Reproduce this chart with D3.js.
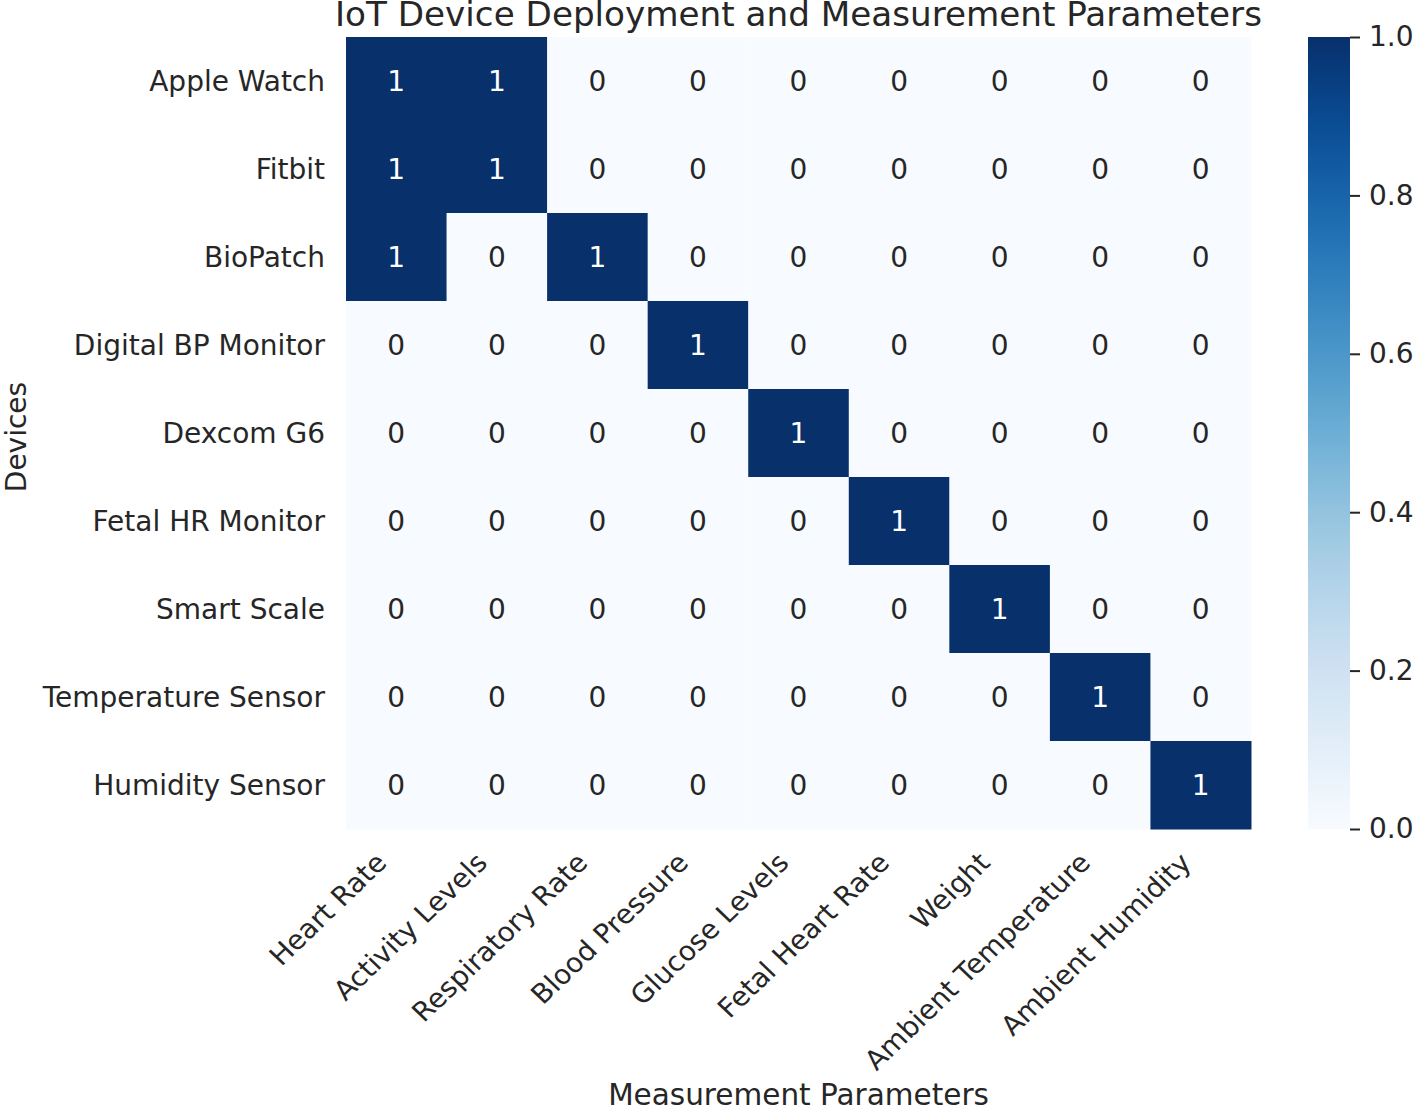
<!DOCTYPE html>
<html><head><meta charset="utf-8">
<script src="https://cdn.jsdelivr.net/npm/d3@7"></script>
<style>body{margin:0;background:#fff;} text{font-family:"DejaVu Sans",sans-serif;fill:#262626;}</style>
</head><body><svg id="c" width="1416" height="1111"></svg>
<script>
const devices = ["Apple Watch","Fitbit","BioPatch","Digital BP Monitor","Dexcom G6","Fetal HR Monitor","Smart Scale","Temperature Sensor","Humidity Sensor"];
const parameters = ["Heart Rate","Activity Levels","Respiratory Rate","Blood Pressure","Glucose Levels","Fetal Heart Rate","Weight","Ambient Temperature","Ambient Humidity"];
const matrix = [
 [1,1,0,0,0,0,0,0,0],
 [1,1,0,0,0,0,0,0,0],
 [1,0,1,0,0,0,0,0,0],
 [0,0,0,1,0,0,0,0,0],
 [0,0,0,0,1,0,0,0,0],
 [0,0,0,0,0,1,0,0,0],
 [0,0,0,0,0,0,1,0,0],
 [0,0,0,0,0,0,0,1,0],
 [0,0,0,0,0,0,0,0,1]
];
const cbTicks = [0,0.2,0.4,0.6,0.8,1.0];

const svg = d3.select("#c");
const L=346,R=1251,T=37,B=829;
const FS=28;
const x = d3.scaleBand().domain(parameters).range([L,R]);
const y = d3.scaleBand().domain(devices).range([T,B]);
const color = d3.scaleSequential(d3.interpolateBlues).domain([0,1]);

const cells=[];
matrix.forEach((row,i)=>row.forEach((v,j)=>cells.push({d:devices[i],p:parameters[j],v})));
svg.append("g").selectAll("rect").data(cells).join("rect")
 .attr("x",c=>x(c.p)).attr("y",c=>y(c.d))
 .attr("width",x.bandwidth()+0.5).attr("height",y.bandwidth()+0.5)
 .attr("fill",c=>color(c.v));
svg.append("g").selectAll("text").data(cells).join("text")
 .attr("x",c=>x(c.p)+x.bandwidth()/2).attr("y",c=>y(c.d)+y.bandwidth()/2)
 .attr("dy","0.36em").attr("text-anchor","middle").attr("font-size",FS)
 .style("fill",c=>c.v>0.5?"#ffffff":"#262626").text(c=>c.v);

// y labels
svg.append("g").selectAll("text").data(devices).join("text")
 .attr("x",L-21).attr("y",d=>y(d)+y.bandwidth()/2).attr("dy","0.36em")
 .attr("text-anchor","end").attr("font-size",FS).text(d=>d);
// x labels
svg.append("g").selectAll("text").data(parameters).join("text")
 .attr("transform",d=>`translate(${x(d)+x.bandwidth()/2-22},${B+22}) scale(1.04,1) rotate(-45)`)
 .attr("text-anchor","end").attr("dy","0.7em").attr("font-size",27).text(d=>d);

svg.append("text").attr("x",(L+R)/2).attr("y",26).attr("text-anchor","middle").attr("font-size",34.2).text("IoT Device Deployment and Measurement Parameters");
svg.append("text").attr("x",(L+R)/2).attr("y",1105).attr("text-anchor","middle").attr("font-size",29.5).text("Measurement Parameters");
svg.append("text").attr("transform",`translate(26,${(T+B)/2+4}) rotate(-90)`).attr("text-anchor","middle").attr("font-size",28).text("Devices");

// colorbar
const cbX=1308,cbW=42;
const defs=svg.append("defs");
const grad=defs.append("linearGradient").attr("id","g").attr("x1",0).attr("y1",1).attr("x2",0).attr("y2",0);
d3.range(0,1.0001,0.05).forEach(t=>grad.append("stop").attr("offset",t).attr("stop-color",color(t)));
svg.append("rect").attr("x",cbX).attr("y",T).attr("width",cbW).attr("height",B-T).attr("fill","url(#g)");
const cy=d3.scaleLinear().domain([0,1]).range([B,T]);
const ax=svg.append("g").attr("transform",`translate(${cbX+cbW},0)`)
 .call(d3.axisRight(cy).tickValues(cbTicks).tickFormat(d3.format(".1f")).tickSize(10).tickPadding(9));
ax.select(".domain").remove();
ax.selectAll("line").attr("stroke","#262626").attr("stroke-width",2);
ax.selectAll("text").attr("font-size",FS).style("fill","#262626").attr("font-family","DejaVu Sans");
</script></body></html>
